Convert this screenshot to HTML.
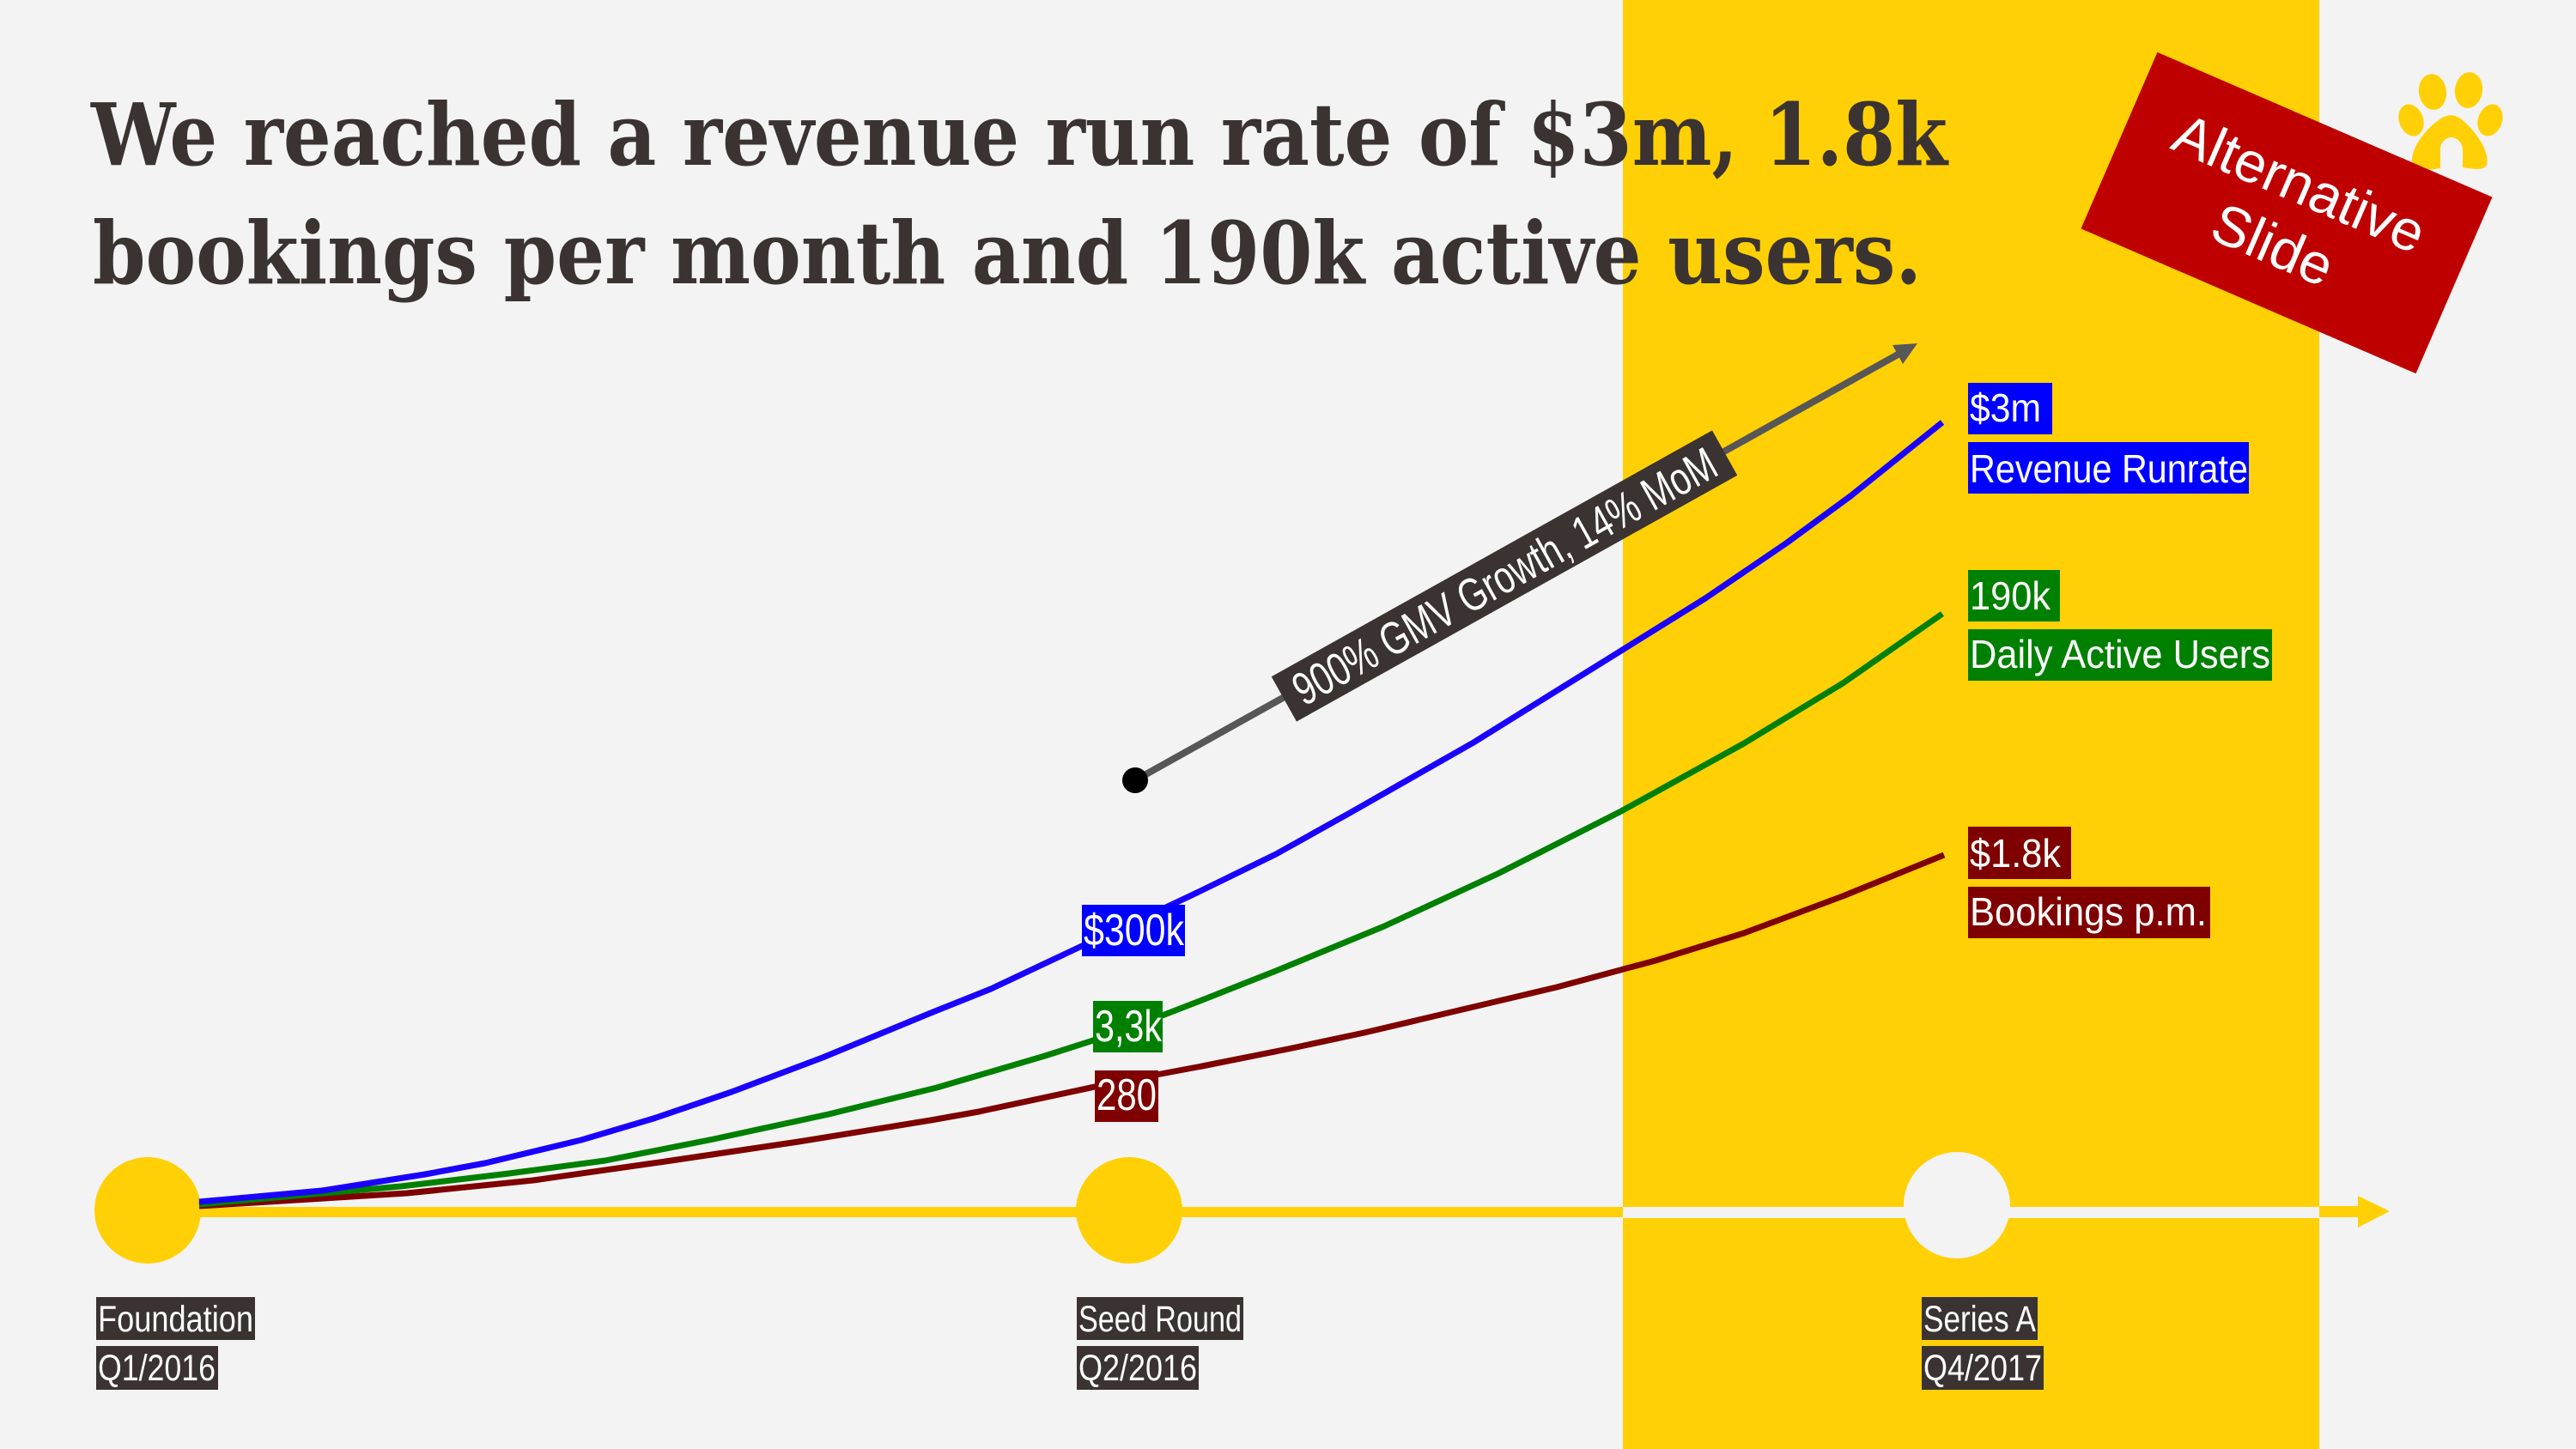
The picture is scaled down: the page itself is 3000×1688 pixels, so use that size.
<!DOCTYPE html>
<html>
<head>
<meta charset="utf-8">
<style>
html,body{margin:0;padding:0;background:#f3f3f3;}
svg{display:block;}
.cond{font-family:"Liberation Sans Narrow","Liberation Sans",sans-serif;fill:#fff;}
.reg{font-family:"Liberation Sans",sans-serif;fill:#fff;}
</style>
</head>
<body>
<svg width="3000" height="1688" viewBox="0 0 3000 1688" xmlns="http://www.w3.org/2000/svg">
  <rect x="0" y="0" width="3000" height="1688" fill="#f3f3f3"/>
  <!-- yellow column -->
  <rect x="1890" y="0" width="811" height="1688" fill="#ffd005"/>

  <!-- title -->
  <text x="106" y="192" font-family="DejaVu Serif" font-weight="bold" font-size="100" fill="#3a3331" textLength="2162" lengthAdjust="spacingAndGlyphs">We reached a revenue run rate of $3m, 1.8k</text>
  <text x="108" y="330" font-family="DejaVu Serif" font-weight="bold" font-size="100" fill="#3a3331" textLength="2130" lengthAdjust="spacingAndGlyphs">bookings per month and 190k active users.</text>

  <!-- timeline -->
  <rect x="172" y="1406" width="1718" height="12" fill="#ffd005"/>
  <rect x="1890" y="1406" width="811" height="13" fill="#f3f3f3"/>
  <rect x="2701" y="1405" width="50" height="13" fill="#ffd005"/>
  <polygon points="2746,1393 2783,1411 2746,1430" fill="#ffd005"/>
  <circle cx="172" cy="1410" r="62" fill="#ffd005"/>
  <circle cx="1315" cy="1410" r="62" fill="#ffd005"/>
  <circle cx="2279" cy="1404" r="62" fill="#f3f3f3"/>

  <!-- curves -->
  <polyline fill="none" stroke="#7f0000" stroke-width="7" stroke-linejoin="round" stroke-linecap="butt"
    points="232,1405 474,1390 621,1375 775,1353 930,1330 1084,1305 1140,1295 1275,1266 1320,1257 1400,1242 1500,1222 1589,1203 1813,1150 1928,1119 2031,1087 2146,1044 2264,996"/>
  <polyline fill="none" stroke="#008000" stroke-width="7" stroke-linejoin="round" stroke-linecap="butt"
    points="232,1403 467,1382 593,1367 705,1352 831,1327 965,1298 1091,1267 1217,1230 1273,1212 1320,1196 1400,1165 1486,1131 1612,1079 1744,1018 1888,945 2031,866 2146,796 2262,715"/>
  <polyline fill="none" stroke="#1a00ff" stroke-width="7" stroke-linejoin="round" stroke-linecap="butt"
    points="232,1400 375,1387 495,1368 565,1355 677,1328 761,1303 852,1272 958,1232 1084,1180 1154,1152 1260,1102 1320,1075 1400,1037 1486,995 1572,947 1716,865 1888,758 1986,697 2080,633 2155,578 2262,492"/>

  <!-- mid labels -->
  <rect x="1260" y="1054" width="120" height="60" fill="#0000ff"/>
  <text class="cond" x="1262" y="1101" font-size="52" textLength="117" lengthAdjust="spacingAndGlyphs">$300k</text>
  <rect x="1273" y="1166" width="81" height="60" fill="#008000"/>
  <text class="cond" x="1275" y="1213" font-size="52" textLength="78" lengthAdjust="spacingAndGlyphs">3,3k</text>
  <rect x="1275" y="1247" width="74" height="60" fill="#7f0000"/>
  <text class="cond" x="1277" y="1293" font-size="52" textLength="70" lengthAdjust="spacingAndGlyphs">280</text>

  <!-- right labels -->
  <rect x="2292" y="446" width="98" height="60" fill="#0000ff"/>
  <text class="reg" x="2294" y="491" font-size="46" textLength="83" lengthAdjust="spacingAndGlyphs">$3m</text>
  <rect x="2292" y="515" width="327" height="60" fill="#0000ff"/>
  <text class="reg" x="2294" y="562" font-size="46" textLength="324" lengthAdjust="spacingAndGlyphs">Revenue Runrate</text>

  <rect x="2292" y="664" width="107" height="60" fill="#008000"/>
  <text class="reg" x="2294" y="710" font-size="46" textLength="94" lengthAdjust="spacingAndGlyphs">190k</text>
  <rect x="2292" y="733" width="354" height="60" fill="#008000"/>
  <text class="reg" x="2294" y="778" font-size="46" textLength="350" lengthAdjust="spacingAndGlyphs">Daily Active Users</text>

  <rect x="2292" y="963" width="120" height="61" fill="#7f0000"/>
  <text class="reg" x="2294" y="1010" font-size="46" textLength="106" lengthAdjust="spacingAndGlyphs">$1.8k</text>
  <rect x="2292" y="1033" width="282" height="60" fill="#7f0000"/>
  <text class="reg" x="2294" y="1078" font-size="46" textLength="276" lengthAdjust="spacingAndGlyphs">Bookings p.m.</text>

  <!-- bottom labels -->
  <rect x="112" y="1511" width="185" height="50" fill="#3a3331"/>
  <text class="cond" x="114" y="1551" font-size="43" textLength="181" lengthAdjust="spacingAndGlyphs">Foundation</text>
  <rect x="112" y="1568" width="142" height="51" fill="#3a3331"/>
  <text class="cond" x="114" y="1608" font-size="43" textLength="137" lengthAdjust="spacingAndGlyphs">Q1/2016</text>

  <rect x="1254" y="1511" width="194" height="50" fill="#3a3331"/>
  <text class="cond" x="1256" y="1551" font-size="43" textLength="190" lengthAdjust="spacingAndGlyphs">Seed Round</text>
  <rect x="1254" y="1568" width="142" height="51" fill="#3a3331"/>
  <text class="cond" x="1256" y="1608" font-size="43" textLength="138" lengthAdjust="spacingAndGlyphs">Q2/2016</text>

  <rect x="2238" y="1511" width="135" height="50" fill="#3a3331"/>
  <text class="cond" x="2240" y="1551" font-size="43" textLength="131" lengthAdjust="spacingAndGlyphs">Series A</text>
  <rect x="2238" y="1568" width="142" height="51" fill="#3a3331"/>
  <text class="cond" x="2240" y="1608" font-size="43" textLength="138" lengthAdjust="spacingAndGlyphs">Q4/2017</text>

  <!-- growth arrow -->
  <line x1="1322" y1="909" x2="2212" y2="412" stroke="#575757" stroke-width="8"/>
  <polygon points="2233,400 2216,424 2204,402" fill="#575757"/>
  <circle cx="1322" cy="909" r="15" fill="#000"/>
  <g transform="translate(1752,671) rotate(-29.2)">
    <rect x="-294" y="-30" width="588" height="60" fill="#3a3331"/>
    <text class="cond" x="0" y="19" font-size="54" text-anchor="middle" textLength="556" lengthAdjust="spacingAndGlyphs">900% GMV Growth, 14% MoM</text>
  </g>

  <!-- paw -->
  <g fill="#ffd005">
    <ellipse cx="2833" cy="107" rx="16" ry="21" transform="rotate(-8 2833 107)"/>
    <ellipse cx="2875" cy="105" rx="16" ry="21" transform="rotate(8 2875 105)"/>
    <ellipse cx="2808" cy="140" rx="14" ry="19" transform="rotate(-20 2808 140)"/>
    <ellipse cx="2900" cy="140" rx="14" ry="19" transform="rotate(20 2900 140)"/>
    <path d="M 2810 192 C 2805 175, 2825 150, 2840 140 C 2850 132, 2860 132, 2870 142 C 2885 155, 2900 178, 2896 192 C 2893 199, 2880 197, 2868 195 L 2868 175 C 2868 165, 2860 160, 2855 160 C 2848 160, 2842 166, 2842 175 L 2842 196 C 2830 198, 2812 200, 2810 192 Z"/>
  </g>

  <!-- alternative slide banner -->
  <g transform="translate(2663,248) rotate(23.4)">
    <rect x="-212.5" y="-112" width="425" height="224" fill="#bf0000"/>
    <text class="reg" x="0" y="-15" font-size="66" text-anchor="middle">Alternative</text>
    <text class="reg" x="0" y="63" font-size="66" text-anchor="middle">Slide</text>
  </g>
</svg>
</body>
</html>
